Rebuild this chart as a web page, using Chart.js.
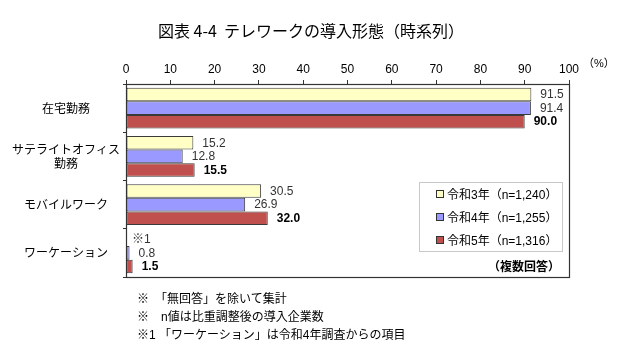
<!DOCTYPE html>
<html><head><meta charset="utf-8">
<script src="https://cdn.jsdelivr.net/npm/chart.js@4/dist/chart.umd.min.js"></script>
<style>
html,body{margin:0;padding:0;background:#fff;}
#wrap{position:relative;width:640px;height:356px;font-family:"Liberation Sans","Noto Sans CJK JP",sans-serif;color:#000;overflow:hidden;}
#c{position:absolute;left:0;top:0;}
.abs{position:absolute;white-space:pre;}
#title{left:158px;top:19px;font-size:16px;line-height:22px;font-family:"Noto Sans CJK JP",sans-serif;}
#legend{left:419px;top:182px;width:142px;height:68px;border:1px solid #c8c8c8;background:#fff;}
.li{position:absolute;left:16px;font-size:12px;line-height:16px;white-space:pre;}
.sw{display:inline-block;width:6px;height:6px;border:1px solid #333;margin-right:3px;vertical-align:1px;}
#multi{right:80px;top:259px;font-size:12px;line-height:16px;font-weight:bold;}
.fn{left:137px;font-size:12px;line-height:16px;}
#pct{left:583px;top:54px;font-size:11px;}
</style></head>
<body>
<div id="wrap">
<canvas id="c" width="640" height="356"></canvas>
<div id="title" class="abs">図表 4-4  テレワークの導入形態（時系列）</div>
<div id="pct" class="abs">（%）</div>
<div id="legend" class="abs"></div>
<div id="multi" class="abs">（複数回答）</div>
<div class="abs fn" style="top:291px">※　「無回答」を除いて集計</div>
<div class="abs fn" style="top:309px">※　n値は比重調整後の導入企業数</div>
<div class="abs fn" style="top:327px">※1 「ワーケーション」は令和4年調査からの項目</div>
</div>
<script>
const categories = [["在宅勤務"], ["サテライトオフィス", "勤務"], ["モバイルワーク"], ["ワーケーション"]];
const seriesNames = ["令和3年（n=1,240）", "令和4年（n=1,255）", "令和5年（n=1,316）"];
const r3 = [91.5, 15.2, 30.5, null];
const r4 = [91.4, 12.8, 26.9, 0.8];
const r5 = [90.0, 15.5, 32.0, 1.5];
const r3Notes = [null, null, null, "※1"];
const xTicks = [0, 10, 20, 30, 40, 50, 60, 70, 80, 90, 100];

const colors = ["#FFFFC6", "#9999FF", "#C0504D"];
const seriesData = [r3, r4, r5];
const seriesNotes = [r3Notes, [null,null,null,null], [null,null,null,null]];

const leg = document.getElementById('legend');
seriesNames.forEach((n, i) => {
  const d = document.createElement('div');
  d.className = 'li';
  d.style.top = (4 + i * 23) + 'px';
  d.innerHTML = '<span class="sw" style="background:' + colors[i] + '"></span>' + n;
  leg.appendChild(d);
});

const boxPlugin = {
  id: 'box',
  afterDatasetsDraw(chart) {
    const a = chart.chartArea, ctx = chart.ctx;
    ctx.save();
    ctx.strokeStyle = '#333';
    ctx.lineWidth = 1.2;
    ctx.strokeRect(Math.round(a.left) + 0.5, Math.round(a.top) + 0.5, Math.round(a.right - a.left), Math.round(a.bottom - a.top));
    ctx.restore();
  }
};

const labelPlugin = {
  id: 'vlabels',
  afterDatasetsDraw(chart) {
    const ctx = chart.ctx;
    const xs = chart.scales.x;
    ctx.save();
    ctx.textBaseline = 'middle';
    ctx.textAlign = 'left';
    chart.data.datasets.forEach((ds, di) => {
      const meta = chart.getDatasetMeta(di);
      meta.data.forEach((el, i) => {
        const v = ds.data[i];
        let txt = null;
        if (v !== null && v !== undefined) txt = v.toFixed(1);
        else if (seriesNotes[di][i]) txt = seriesNotes[di][i];
        if (!txt) return;
        const x = (v !== null && isFinite(el.x)) ? el.x : xs.getPixelForValue(0);
        const y = el.y;
        if (di === 2) { ctx.font = 'bold 12px "Liberation Sans", sans-serif'; ctx.fillStyle = '#000'; }
        else { ctx.font = '12px "Liberation Sans", "Noto Sans CJK JP", sans-serif'; ctx.fillStyle = '#333'; }
        const off = (v === null) ? 6 : 9;
        ctx.fillText(txt, x + off, y + 0.5);
      });
    });
    ctx.restore();
  }
};

new Chart(document.getElementById('c'), {
  type: 'bar',
  data: {
    labels: categories,
    datasets: seriesNames.map((n, i) => ({
      label: n,
      data: seriesData[i],
      backgroundColor: colors[i],
      borderColor: '#3a3a3a',
      borderWidth: 1,
      borderSkipped: false,
      categoryPercentage: 0.84,
      barPercentage: 1.0
    }))
  },
  options: {
    indexAxis: 'y',
    responsive: false,
    animation: false,
    devicePixelRatio: 1,
    layout: { padding: { top: 56, right: 71, bottom: 79, left: 8 } },
    plugins: { legend: { display: false }, title: { display: false }, tooltip: { enabled: false } },
    scales: {
      x: {
        position: 'top',
        min: 0, max: 100,
        afterBuildTicks(s) { s.ticks = xTicks.map(v => ({ value: v })); },
        afterFit(s) { s.height = 28; },
        ticks: { color: '#000', font: { size: 12, family: '"Liberation Sans", sans-serif' }, padding: 3, maxRotation: 0 },
        grid: { drawOnChartArea: false, tickLength: 4, color: '#333' },
        border: { display: true, color: '#333' }
      },
      y: {
        afterFit(s) { s.width = 118; },
        ticks: { color: '#000', font: { size: 12, family: '"Noto Sans CJK JP", sans-serif' }, crossAlign: 'center', padding: 3 },
        grid: { drawOnChartArea: false, tickLength: 3, color: '#333', offset: true },
        border: { display: true, color: '#333' }
      }
    }
  },
  plugins: [boxPlugin, labelPlugin]
});
</script>
</body></html>
